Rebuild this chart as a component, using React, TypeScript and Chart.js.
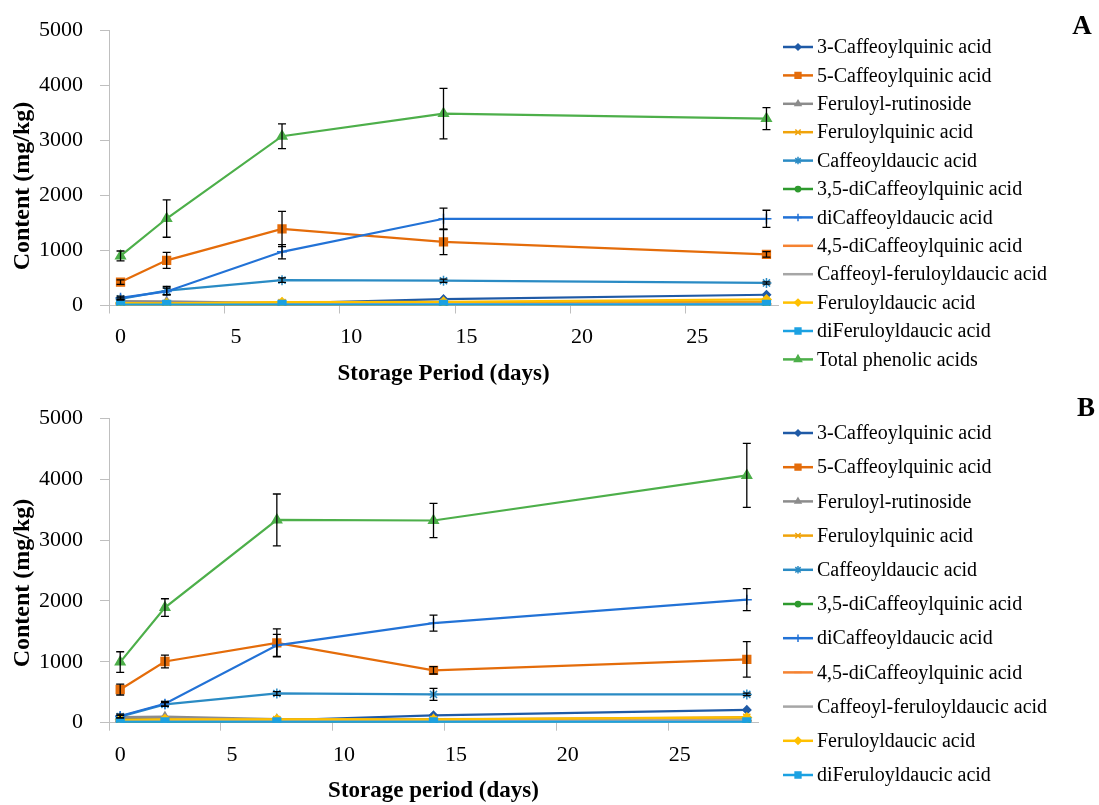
import React, { useEffect, useRef } from 'react';
import { Chart, registerables } from 'chart.js';
import { drawPoint } from 'chart.js/helpers';

Chart.register(...registerables);

// ---------- data ----------
const days = [0, 2, 7, 14, 28];
const xTickPositions = [-0.5, 4.5, 9.5, 14.5, 19.5, 24.5];
const xTickLabels = ['0', '5', '10', '15', '20', '25'];
const yTickLabels = ['0', '1000', '2000', '3000', '4000', '5000'];
const yTitle = 'Content (mg/kg)';

const seriesNames = [
  '3-Caffeoylquinic acid',
  '5-Caffeoylquinic acid',
  'Feruloyl-rutinoside',
  'Feruloylquinic acid',
  'Caffeoyldaucic acid',
  '3,5-diCaffeoylquinic acid',
  'diCaffeoyldaucic acid',
  '4,5-diCaffeoylquinic acid',
  'Caffeoyl-feruloyldaucic acid',
  'Feruloyldaucic acid',
  'diFeruloyldaucic acid',
  'Total phenolic acids',
];

// Panel A values (mg/kg)
const a3CQA = [50, 45, 40, 115, 195];
const a5CQA = [425, 820, 1390, 1155, 930];
const aFerRut = [80, 75, 45, 55, 60];
const aFerQuin = [35, 35, 55, 50, 70];
const aCafDau = [120, 270, 460, 450, 410];
const a35diCQA = [15, 15, 10, 20, 25];
const aDiCafDau = [140, 255, 975, 1575, 1575];
const a45diCQA = [20, 20, 15, 25, 30];
const aCafFerDau = [25, 25, 20, 25, 30];
const aFerDau = [45, 40, 60, 65, 110];
const aDiFerDau = [18, 18, 18, 18, 20];
const aTotal = [900, 1580, 3075, 3485, 3395];

const aErr5CQA = [40, 145, 320, 230, 50];
const aErrCafDau = [20, 75, 40, 30, 20];
const aErrDiCafDau = [30, 60, 130, 195, 155];
const aErrTotal = [90, 340, 225, 460, 200];

// Panel B values (mg/kg)
const b3CQA = [60, 55, 40, 120, 210];
const b5CQA = [545, 1005, 1310, 860, 1040];
const bFerRut = [90, 100, 60, 60, 70];
const bFerQuin = [40, 50, 50, 50, 90];
const bCafDau = [100, 300, 480, 465, 465];
const b35diCQA = [15, 15, 10, 20, 25];
const bDiCafDau = [110, 310, 1270, 1635, 2020];
const b45diCQA = [20, 25, 15, 25, 35];
const bCafFerDau = [30, 30, 25, 30, 40];
const bFerDau = [50, 55, 55, 55, 85];
const bDiFerDau = [15, 15, 15, 15, 15];
const bTotal = [995, 1890, 3330, 3320, 4060];

const bErr5CQA = [90, 105, 230, 60, 290];
const bErrCafDau = [20, 30, 30, 100, 20];
const bErrDiCafDau = [30, 40, 180, 130, 180];
const bErrTotal = [170, 145, 425, 280, 525];

// ---------- styles ----------
const colors = [
  '#1F5AA6', '#E46C0A', '#8C8C8C', '#F0A30A', '#2A8BC4', '#2E9A2E',
  '#2272D6', '#F58231', '#A6A6A6', '#FFC000', '#1BA1E2', '#4DAF4A',
];
const pointStyles = [
  'rectRot', 'rect', 'triangle', 'crossRot', 'star', 'circle',
  'cross', 'line', 'circle', 'rectRot', 'rect', 'triangle',
];
const pointRadii = [4, 5.5, 4.5, 5, 5, 3.5, 5, 5, 0, 4.5, 5.5, 5.5];

const FONT = "'Liberation Serif', 'Times New Roman', serif";

const errorBarPlugin = {
  id: 'errorBars',
  afterDatasetsDraw(chart: any) {
    const { ctx } = chart;
    const xs = chart.scales.x;
    const ys = chart.scales.y;
    ctx.save();
    ctx.strokeStyle = '#000';
    ctx.lineWidth = 1.3;
    chart.data.datasets.forEach((ds: any) => {
      if (!ds.errors) return;
      ds.data.forEach((pt: any, i: number) => {
        const e = ds.errors[i];
        if (!e) return;
        const x = xs.getPixelForValue(pt.x);
        const yt = ys.getPixelForValue(pt.y + e);
        const yb = ys.getPixelForValue(Math.max(0, pt.y - e));
        ctx.beginPath();
        ctx.moveTo(x, yt);
        ctx.lineTo(x, yb);
        ctx.moveTo(x - 4, yt);
        ctx.lineTo(x + 4, yt);
        ctx.moveTo(x - 4, yb);
        ctx.lineTo(x + 4, yb);
        ctx.stroke();
      });
    });
    ctx.restore();
  },
};

const sideLegendPlugin = {
  id: 'sideLegend',
  afterDraw(chart: any, _args: any, opts: any) {
    const { ctx } = chart;
    ctx.save();
    ctx.font = `20px ${FONT}`;
    ctx.textBaseline = 'middle';
    ctx.textAlign = 'left';
    const dsList = chart.data.datasets.slice(0, opts.count);
    dsList.forEach((ds: any, i: number) => {
      const y = opts.y0 + i * opts.dy;
      ctx.strokeStyle = ds.borderColor;
      ctx.lineWidth = 2.5;
      ctx.beginPath();
      ctx.moveTo(opts.x, y);
      ctx.lineTo(opts.x + opts.len, y);
      ctx.stroke();
      if (ds.pointRadius > 0) {
        ctx.fillStyle = ds.pointBackgroundColor;
        ctx.strokeStyle = ds.borderColor;
        ctx.lineWidth = 1.5;
        drawPoint(ctx, { pointStyle: ds.pointStyle, radius: ds.pointRadius * 0.75, borderWidth: 1.5, rotation: 0 }, opts.x + opts.len / 2, y);
      }
      ctx.fillStyle = '#000';
      ctx.fillText(ds.label, opts.textX, y + 1);
    });
    // panel letter
    ctx.font = `bold 27px ${FONT}`;
    ctx.textAlign = 'center';
    ctx.fillText(opts.letter, opts.letterX, opts.letterY);
    // y-axis title
    ctx.font = `bold 24px ${FONT}`;
    ctx.translate(opts.yTitleX, opts.yTitleY);
    ctx.rotate(-Math.PI / 2);
    ctx.textAlign = 'center';
    ctx.textBaseline = 'middle';
    ctx.fillText(yTitle, 0, 0);
    ctx.restore();
  },
};

type PanelCfg = {
  values: number[][];
  errors: (number[] | null)[];
  height: number;
  plotTop: number;
  plotBottom: number;
  plotRight: number;
  xTitle: string;
  legendCount: number;
  legendY0: number;
  legendDy: number;
  letter: string;
  letterX: number;
  letterY: number;
  yTitleY: number;
};

function Panel({ cfg, top }: { cfg: PanelCfg; top: number }) {
  const ref = useRef<HTMLCanvasElement | null>(null);
  useEffect(() => {
    if (!ref.current) return;
    const W = 1099;
    const n = cfg.values.length;
    const datasets = cfg.values.map((vals, i) => ({
      label: seriesNames[i],
      data: vals.map((v, k) => ({ x: days[k], y: v })),
      errors: cfg.errors[i],
      borderColor: colors[i],
      backgroundColor: colors[i],
      pointBackgroundColor: colors[i],
      pointBorderColor: colors[i],
      pointStyle: pointStyles[i],
      pointRadius: pointRadii[i],
      pointBorderWidth: 1.5,
      borderWidth: 2.2,
      tension: 0,
      order: n - i,
    }));
    const unitPx = (cfg.plotRight - 109) / 29;
    const chart = new Chart(ref.current, {
      type: 'line',
      data: { datasets } as any,
      plugins: [errorBarPlugin, sideLegendPlugin],
      options: {
        animation: false,
        responsive: false,
        events: [],
        layout: { padding: { top: cfg.plotTop, right: W - cfg.plotRight, left: 0, bottom: 0 } },
        plugins: {
          legend: { display: false },
          tooltip: { enabled: false },
          sideLegend: {
            count: cfg.legendCount,
            x: 783,
            len: 30,
            textX: 817,
            y0: cfg.legendY0,
            dy: cfg.legendDy,
            letter: cfg.letter,
            letterX: cfg.letterX,
            letterY: cfg.letterY,
            yTitleX: 23,
            yTitleY: cfg.yTitleY,
          },
        } as any,
        scales: {
          x: {
            type: 'linear',
            min: -0.5,
            max: 28.5,
            afterBuildTicks: (scale: any) => {
              scale.ticks = xTickPositions.map((v) => ({ value: v }));
            },
            afterFit: (scale: any) => {
              scale.height = cfg.height - cfg.plotBottom;
            },
            ticks: {
              callback: (_v: any, idx: number) => xTickLabels[idx],
              labelOffset: unitPx * 0.5,
              padding: 11,
              color: '#000',
              maxRotation: 0,
              autoSkip: false,
              font: { family: FONT, size: 22 },
            },
            grid: { drawOnChartArea: false, drawTicks: true, tickLength: 8, color: '#BFBFBF', lineWidth: 1 },
            border: { color: '#BFBFBF', width: 1 },
            title: {
              display: true,
              text: cfg.xTitle,
              color: '#000',
              font: { family: FONT, size: 23, weight: 'bold', lineHeight: 1.2 },
              padding: { top: 0, bottom: 0 },
            },
          },
          y: {
            type: 'linear',
            min: 0,
            max: 5000,
            afterFit: (scale: any) => {
              scale.width = 109;
            },
            ticks: {
              stepSize: 1000,
              callback: (_v: any, idx: number) => yTickLabels[idx],
              padding: 17,
              color: '#000',
              font: { family: FONT, size: 22 },
            },
            grid: { drawOnChartArea: false, drawTicks: true, tickLength: 9, color: '#BFBFBF', lineWidth: 1 },
            border: { color: '#BFBFBF', width: 1 },
            title: { display: false },
          },
        },
      } as any,
    });
    return () => chart.destroy();
  }, [cfg]);
  return (
    <canvas
      ref={ref}
      width={1099}
      height={cfg.height}
      style={{ position: 'absolute', left: 0, top, width: 1099, height: cfg.height }}
    />
  );
}

const panelA: PanelCfg = {
  values: [a3CQA, a5CQA, aFerRut, aFerQuin, aCafDau, a35diCQA, aDiCafDau, a45diCQA, aCafFerDau, aFerDau, aDiFerDau, aTotal],
  errors: [null, aErr5CQA, null, null, aErrCafDau, null, aErrDiCafDau, null, null, null, null, aErrTotal],
  height: 388,
  plotTop: 24,
  plotBottom: 305.5,
  plotRight: 778,
  xTitle: 'Storage Period (days)',
  legendCount: 12,
  legendY0: 47,
  legendDy: 28.4,
  letter: 'A',
  letterX: 1082,
  letterY: 27,
  yTitleY: 186,
};

const panelB: PanelCfg = {
  values: [b3CQA, b5CQA, bFerRut, bFerQuin, bCafDau, b35diCQA, bDiCafDau, b45diCQA, bCafFerDau, bFerDau, bDiFerDau, bTotal],
  errors: [null, bErr5CQA, null, null, bErrCafDau, null, bErrDiCafDau, null, null, null, null, bErrTotal],
  height: 417,
  plotTop: 18,
  plotBottom: 334.7,
  plotRight: 758,
  xTitle: 'Storage period (days)',
  legendCount: 11,
  legendY0: 45,
  legendDy: 34.2,
  letter: 'B',
  letterX: 1086,
  letterY: 21,
  yTitleY: 195,
};

export default function App() {
  return (
    <div style={{ position: 'absolute', left: 0, top: 0, width: 1099, height: 805, background: '#fff' }}>
      <Panel cfg={panelA} top={0} />
      <Panel cfg={panelB} top={388} />
    </div>
  );
}
